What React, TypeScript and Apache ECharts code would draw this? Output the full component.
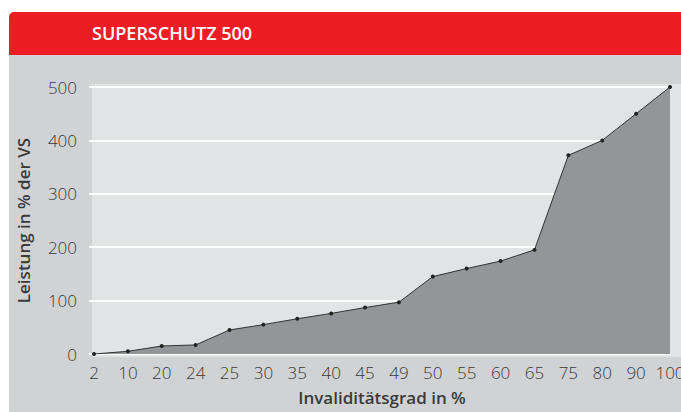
import React, { useEffect, useRef } from "react";
import * as echarts from "echarts";

const categories = ["2", "10", "20", "24", "25", "30", "35", "40", "45", "49", "50", "55", "60", "65", "75", "80", "90", "100"];
const values = [0, 5, 15, 17, 45, 55, 66, 76, 87, 97, 145, 160, 174, 195, 372, 400, 450, 500];
const yTicks = [0, 100, 200, 300, 400, 500];

const FONT = "'Open Sans', 'Noto Sans', sans-serif";

export default function App() {
  const ref = useRef<HTMLDivElement>(null);
  useEffect(() => {
    if (!ref.current) return;
    const chart = echarts.init(ref.current, undefined, { renderer: "svg" });
    chart.setOption({
      animation: false,
      backgroundColor: "#ffffff",
      title: {
        text: "SUPERSCHUTZ 500",
        left: 92,
        top: 24,
        padding: 0,
        textStyle: { color: "#ffffff", fontFamily: FONT, fontWeight: 600, fontSize: 18 },
      },
      graphic: [
        { type: "rect", z: -10, silent: true, shape: { x: 9, y: 12, width: 680, height: 43, r: [5, 0, 0, 0] }, style: { fill: "#ee1d25" } },
        { type: "rect", z: -10, silent: true, shape: { x: 9, y: 55, width: 680, height: 360 }, style: { fill: "#d1d2d4" } },
        { type: "rect", z: -9, silent: true, shape: { x: 92, y: 84, width: 600, height: 273 }, style: { fill: "#e2e3e5" } },
      ],
      grid: { left: 94, right: 11, top: 87, bottom: 58, containLabel: false, outerBoundsMode: "none" },
      xAxis: {
        type: "category",
        data: categories,
        boundaryGap: false,
        axisLine: { show: false },
        axisTick: { show: false },
        axisLabel: { interval: 0, color: "#3a3a3a", fontFamily: FONT, fontWeight: 300, fontSize: 17, margin: 10 },
        name: "Invaliditätsgrad in %",
        nameLocation: "middle",
        nameGap: 35,
        nameTextStyle: { color: "#3a3a3a", fontFamily: FONT, fontWeight: 600, fontSize: 17 },
      },
      yAxis: {
        type: "value",
        min: 0,
        max: 500,
        interval: 100,
        axisLine: { show: false },
        axisTick: { show: true, length: 5, lineStyle: { color: "#ffffff", width: 2 } },
        splitLine: { show: true, lineStyle: { color: "#ffffff", width: 2 } },
        axisLabel: {
          color: "#3a3a3a",
          fontFamily: FONT,
          fontWeight: 300,
          fontSize: 17,
          margin: 17,
          formatter: (v: number) => (yTicks.includes(v) ? String(v) : ""),
        },
        name: "Leistung in % der VS",
        nameLocation: "middle",
        nameGap: 62,
        nameTextStyle: { color: "#3a3a3a", fontFamily: FONT, fontWeight: 600, fontSize: 17 },
      },
      series: [
        {
          type: "line",
          data: values,
          symbol: "circle",
          symbolSize: 4,
          itemStyle: { color: "#222222" },
          lineStyle: { color: "#333333", width: 1 },
          areaStyle: { color: "#939598", opacity: 1 },
        },
      ],
    });
    return () => chart.dispose();
  }, []);
  return <div ref={ref} style={{ position: "absolute", left: 0, top: 0, width: 681, height: 412 }} />;
}
